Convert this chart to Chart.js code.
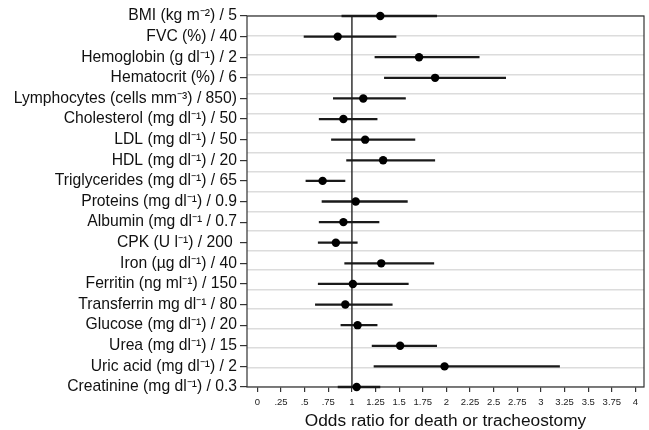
<!DOCTYPE html>
<html>
<head>
<meta charset="utf-8">
<script src="https://cdn.jsdelivr.net/npm/chart.js@4/dist/chart.umd.min.js"></script>
<style>
  html, body { margin: 0; padding: 0; background: #fff; }
  #wrap { width: 649px; height: 430px; }
</style>
</head>
<body>
<div id="wrap"><canvas id="forest"></canvas></div>
<script>
    const labels = [
      'BMI (kg m⁻²) / 5',
      'FVC (%) / 40',
      'Hemoglobin (g dl⁻¹) / 2',
      'Hematocrit (%) / 6',
      'Lymphocytes (cells mm⁻³) / 850)',
      'Cholesterol (mg dl⁻¹) / 50',
      'LDL (mg dl⁻¹) / 50',
      'HDL (mg dl⁻¹) / 20',
      'Triglycerides (mg dl⁻¹) / 65',
      'Proteins (mg dl⁻¹) / 0.9',
      'Albumin (mg dl⁻¹ / 0.7',
      'CPK (U l⁻¹) / 200 ',
      'Iron (µg dl⁻¹) / 40',
      'Ferritin (ng ml⁻¹) / 150',
      'Transferrin mg dl⁻¹ / 80',
      'Glucose (mg dl⁻¹) / 20',
      'Urea (mg dl⁻¹) / 15',
      'Uric acid (mg dl⁻¹) / 2',
      'Creatinine (mg dl⁻¹) / 0.3'
    ];
    const oddsRatio = [1.30, 0.85, 1.71, 1.88, 1.12, 0.91, 1.14, 1.33, 0.69, 1.04, 0.91, 0.83, 1.31, 1.01, 0.93, 1.06, 1.51, 1.98, 1.05];
    const lowerCI   = [0.89, 0.49, 1.24, 1.34, 0.80, 0.65, 0.78, 0.94, 0.51, 0.68, 0.65, 0.64, 0.92, 0.64, 0.61, 0.88, 1.21, 1.23, 0.85];
    const upperCI   = [1.90, 1.47, 2.35, 2.63, 1.57, 1.27, 1.67, 1.88, 0.93, 1.59, 1.29, 1.06, 1.87, 1.60, 1.43, 1.27, 1.90, 3.20, 1.30];
    const xTickLabels = ['0', '.25', '.5', '.75', '1', '1.25', '1.5', '1.75', '2', '2.25', '2.5', '2.75', '3', '3.25', '3.5', '3.75', '4'];
    const refValue = 1;

    Chart.defaults.font.family = "'Liberation Sans', Arial, sans-serif";
    Chart.defaults.color = '#111';

    // dots
    const points = oddsRatio.map((v, i) => ({ x: v, y: i }));

    // whiskers, broken by null points
    const whiskers = [];
    lowerCI.forEach((lo, i) => {
      whiskers.push({ x: lo, y: i });
      whiskers.push({ x: upperCI[i], y: i });
      whiskers.push({ x: null, y: null });
    });

    const frame = {
      id: 'frame',
      beforeDatasetsDraw(chart) {
        const { ctx, chartArea: a } = chart;
        ctx.save();
        ctx.strokeStyle = '#333';
        ctx.lineWidth = 1.2;
        ctx.strokeRect(a.left, a.top, a.right - a.left, a.bottom - a.top);
        ctx.restore();
      }
    };

    const ctx = document.getElementById('forest').getContext('2d');
    new Chart(ctx, {
      type: 'scatter',
      data: {
        datasets: [
          {
            data: points,
            pointRadius: 4.2,
            pointBackgroundColor: '#000',
            pointBorderWidth: 0,
            showLine: false,
            clip: false
          },
          {
            data: whiskers,
            showLine: true,
            spanGaps: false,
            borderColor: '#1a1a1a',
            borderWidth: 2.3,
            pointRadius: 0,
            clip: false
          },
          {
            data: [{ x: refValue, y: 0 }, { x: refValue, y: labels.length - 1 }],
            showLine: true,
            borderColor: '#333',
            borderWidth: 1.5,
            pointRadius: 0
          }
        ]
      },
      plugins: [frame],
      options: {
        responsive: true,
        maintainAspectRatio: false,
        animation: false,
        layout: { padding: { top: 16, right: 5, left: 0, bottom: 0 } },
        plugins: {
          legend: { display: false },
          tooltip: { enabled: false }
        },
        scales: {
          x: {
            type: 'linear',
            min: -0.11,
            max: 4.09,
            afterFit: (s) => { s.height = 43; },
            border: { display: false },
            grid: { drawOnChartArea: false, tickLength: 5, color: '#333', lineWidth: 1.2 },
            ticks: {
              stepSize: 0.25,
              includeBounds: false,
              autoSkip: false,
              maxRotation: 0,
              padding: 5,
              font: { size: 9.5 },
              color: '#222',
              callback: (v) => xTickLabels[Math.round(v * 4)]
            },
            title: {
              display: true,
              text: 'Odds ratio for death or tracheostomy',
              font: { size: 17.3, lineHeight: 1 },
              color: '#111',
              padding: 0
            }
          },
          y: {
            type: 'linear',
            min: 0,
            max: labels.length - 1,
            reverse: true,
            afterFit: (s) => { s.width = 247; },
            border: { display: false },
            grid: { drawOnChartArea: false, tickLength: 7, color: '#333', lineWidth: 1.2 },
            ticks: {
              stepSize: 1,
              autoSkip: false,
              padding: 3,
              font: { size: 15.7 },
              color: '#111',
              callback: (v) => labels[v]
            }
          },
          bands: {
            type: 'linear',
            position: 'left',
            min: 0,
            max: labels.length,
            afterFit: (s) => { s.width = 0; },
            border: { display: false },
            grid: { color: '#dcdcdc', lineWidth: 1.5, drawTicks: false },
            ticks: { display: false, stepSize: 1 }
          }
        }
      }
    });
</script>
</body>
</html>
